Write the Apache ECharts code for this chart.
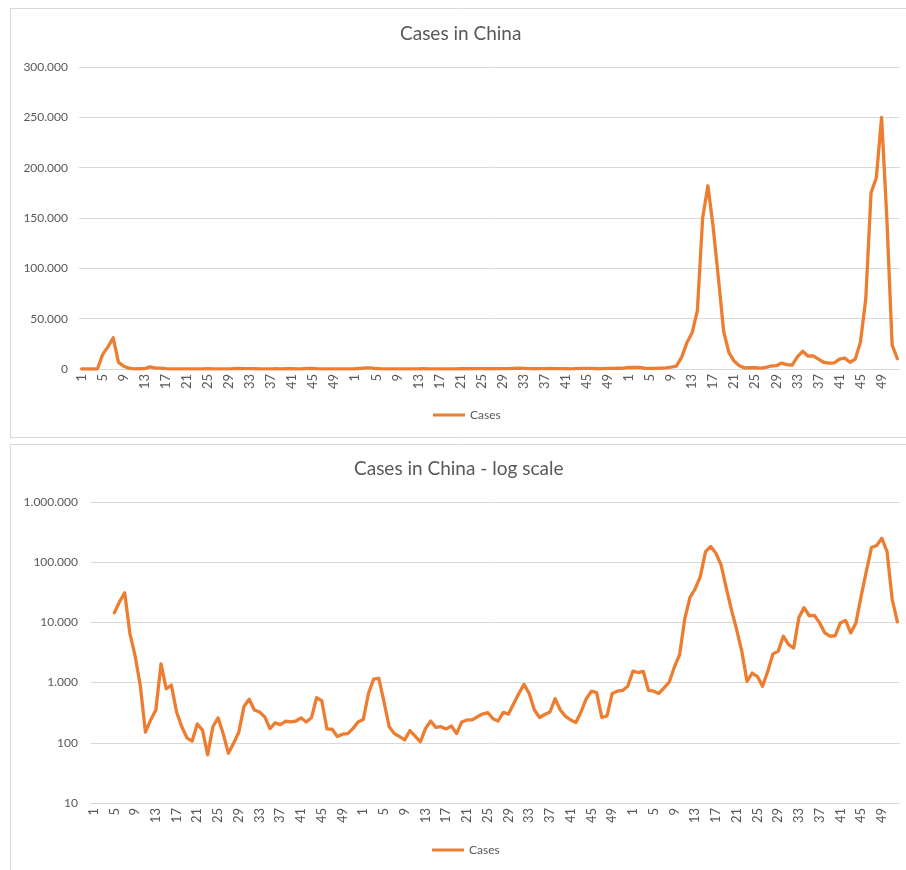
<!DOCTYPE html>
<html>
<head>
<meta charset="utf-8">
<script src="https://cdn.jsdelivr.net/npm/echarts@6/dist/echarts.min.js"></script>
<style>
html,body{margin:0;padding:0;background:#fff;}
#chart{width:906px;height:870px;}
</style>
</head>
<body>
<div id="chart"></div>
<script>
// Week numbers (x tick labels), repeated for three consecutive years
const weekNumbers = [1,2,3,4,5,6,7,8,9,10,11,12,13,14,15,16,17,18,19,20,21,22,23,24,25,26,
  27,28,29,30,31,32,33,34,35,36,37,38,39,40,41,42,43,44,45,46,47,48,49,50,51,52];
const categories = [].concat(weekNumbers, weekNumbers, weekNumbers).map(String);

// Weekly cases
const casesYear1 = [0,0,0,0,14500,22000,31000,6500,2800,900,150,240,350,2050,790,910,325,185,121,107,
  205,162,63,185,260,141,67,98,150,400,530,350,325,270,172,214,200,228,222,230,260,222,260,560,500,170,
  168,127,139,142,172,222];
const casesYear2 = [244,660,1140,1180,480,185,142,127,112,160,129,104,172,230,180,185,170,190,142,222,
  240,240,270,300,318,252,230,320,300,445,660,935,660,350,263,295,325,540,350,275,240,218,325,540,720,
  680,263,280,660,720,740,870];
const casesYear3 = [1550,1470,1540,745,720,660,815,1020,1820,2900,11500,26000,36000,58000,150000,182000,
  141000,90000,37000,16200,7600,3300,1050,1440,1260,870,1540,3000,3300,5900,4300,3750,12000,17600,12900,
  13100,9800,6700,5900,6000,9800,10800,6700,9800,27000,70000,175000,190000,250000,150000,24000,10200];
const cases = [].concat(casesYear1, casesYear2, casesYear3);

const linearTicks = {min: 0, max: 300000, interval: 50000};
const logTicks = {min: 10, max: 1000000};

const ORANGE = '#ED7D31';
const GREY = '#595959';
const GRID = '#D9D9D9';
const FONT = 'Lato, "Open Sans", sans-serif';

function fmt(v) {
  return String(Math.round(v)).replace(/\B(?=(\d{3})+(?!\d))/g, '.');
}

const xAxisCommon = {
  type: 'category',
  data: categories,
  boundaryGap: true,
  axisLine: {show: true, lineStyle: {color: GRID, width: 1}},
  axisTick: {show: false},
  axisLabel: {interval: 3, rotate: 90, fontSize: 13, color: GREY, fontFamily: FONT, margin: 5}
};

const lineStyle = {color: ORANGE, width: 3.3, cap: 'round', join: 'round'};

const chart = echarts.init(document.getElementById('chart'), null, {renderer: 'canvas'});
chart.setOption({
  backgroundColor: '#fff',
  animation: false,
  graphic: [
    {type: 'rect', shape: {x: 10.5, y: 8.5, width: 905, height: 429}, style: {fill: 'none', stroke: GRID, lineWidth: 1}, silent: true},
    {type: 'rect', shape: {x: 10.5, y: 444.5, width: 905, height: 440}, style: {fill: 'none', stroke: GRID, lineWidth: 1}, silent: true}
  ],
  title: [
    {text: 'Cases in China', left: 400, top: 24, padding: 0,
     textStyle: {fontFamily: FONT, fontSize: 19, fontWeight: 'normal', color: GREY}},
    {text: 'Cases in China - log scale', left: 354, top: 459, padding: 0,
     textStyle: {fontFamily: FONT, fontSize: 19, fontWeight: 'normal', color: GREY}}
  ],
  legend: [
    {data: ['Cases'], left: 433, top: 409, icon: 'rect', itemWidth: 32, itemHeight: 3, itemGap: 5, padding: 0,
     textStyle: {fontFamily: FONT, fontSize: 12, color: GREY}, selectedMode: false},
    {data: ['Cases'], left: 432, top: 844, icon: 'rect', itemWidth: 32, itemHeight: 3, itemGap: 5, padding: 0,
     textStyle: {fontFamily: FONT, fontSize: 12, color: GREY}, selectedMode: false}
  ],
  grid: [
    {left: 79, right: 6, top: 67, height: 302, containLabel: false},
    {left: 91, right: 6, top: 502, height: 301, containLabel: false}
  ],
  xAxis: [
    Object.assign({gridIndex: 0}, xAxisCommon),
    Object.assign({gridIndex: 1}, xAxisCommon)
  ],
  yAxis: [
    {gridIndex: 0, type: 'value', min: linearTicks.min, max: linearTicks.max, interval: linearTicks.interval,
     axisLine: {show: false}, axisTick: {show: false},
     splitLine: {lineStyle: {color: GRID, width: 1}},
     axisLabel: {formatter: fmt, fontSize: 12, color: GREY, fontFamily: FONT, margin: 11}},
    {gridIndex: 1, type: 'log', logBase: 10, min: logTicks.min, max: logTicks.max,
     axisLine: {show: false}, axisTick: {show: false},
     splitLine: {lineStyle: {color: GRID, width: 1}},
     axisLabel: {formatter: fmt, fontSize: 12, color: GREY, fontFamily: FONT, margin: 13}}
  ],
  series: [
    {name: 'Cases', type: 'line', xAxisIndex: 0, yAxisIndex: 0, data: cases,
     showSymbol: false, symbol: 'none', lineStyle: lineStyle, itemStyle: {color: ORANGE}},
    {name: 'Cases', type: 'line', xAxisIndex: 1, yAxisIndex: 1,
     data: cases.map(v => v > 0 ? v : null),
     showSymbol: false, symbol: 'none', lineStyle: lineStyle, itemStyle: {color: ORANGE}}
  ]
});
</script>
</body>
</html>
